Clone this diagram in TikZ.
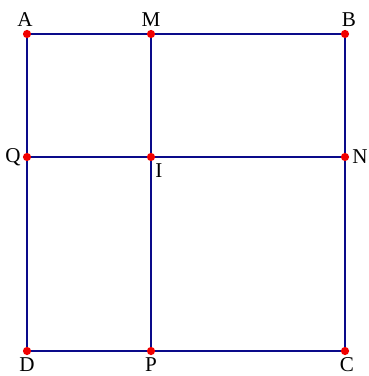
\documentclass[tikz,border=0pt]{standalone}
\usepackage{fontspec}
\setmainfont{Liberation Serif}
\definecolor{edgeblue}{HTML}{0A0A8A}
\definecolor{dotred}{HTML}{F00000}
\usetikzlibrary{positioning, backgrounds}
\tikzset{
  dot/.style={circle, fill=dotred, inner sep=0pt, minimum size=7pt},
  edge/.style={draw=edgeblue, line width=1.6pt},
  ptlabel/.style={inner sep=0pt, font=\fontsize{18}{21}\selectfont}
}
\begin{document}
\begin{tikzpicture}[x=0.03cm, y=-0.03cm]
  \useasboundingbox (0,0) rectangle (368,376);

  % points
  \node[dot] (A) at (27,34) {};
  \node[dot] (M) at (151,34) {};
  \node[dot] (B) at (345,34) {};
  \node[dot] (Q) at (27,157) {};
  \node[dot] (I) at (151,157) {};
  \node[dot] (N) at (345,157) {};
  \node[dot] (D) at (27,351) {};
  \node[dot] (P) at (151,351) {};
  \node[dot] (C) at (345,351) {};

  % edges
  \begin{scope}[on background layer]
    \draw[edge] (A.center) -- (B.center) -- (C.center) -- (D.center) -- cycle;
    \draw[edge] (M.center) -- (P.center);
    \draw[edge] (Q.center) -- (N.center);
  \end{scope}

  % labels
  \node[ptlabel] (lA) at (25,20) {A};
  \node[ptlabel] (lM) at (151,20) {M};
  \node[ptlabel] (lB) at (349,20) {B};
  \node[ptlabel] (lQ) at (13,157) {Q};
  \node[ptlabel] (lI) at (159,171) {I};
  \node[ptlabel] (lN) at (360,157) {N};
  \node[ptlabel] (lD) at (27,365) {D};
  \node[ptlabel] (lP) at (151,365) {P};
  \node[ptlabel] (lC) at (347,365) {C};
\end{tikzpicture}
\end{document}
